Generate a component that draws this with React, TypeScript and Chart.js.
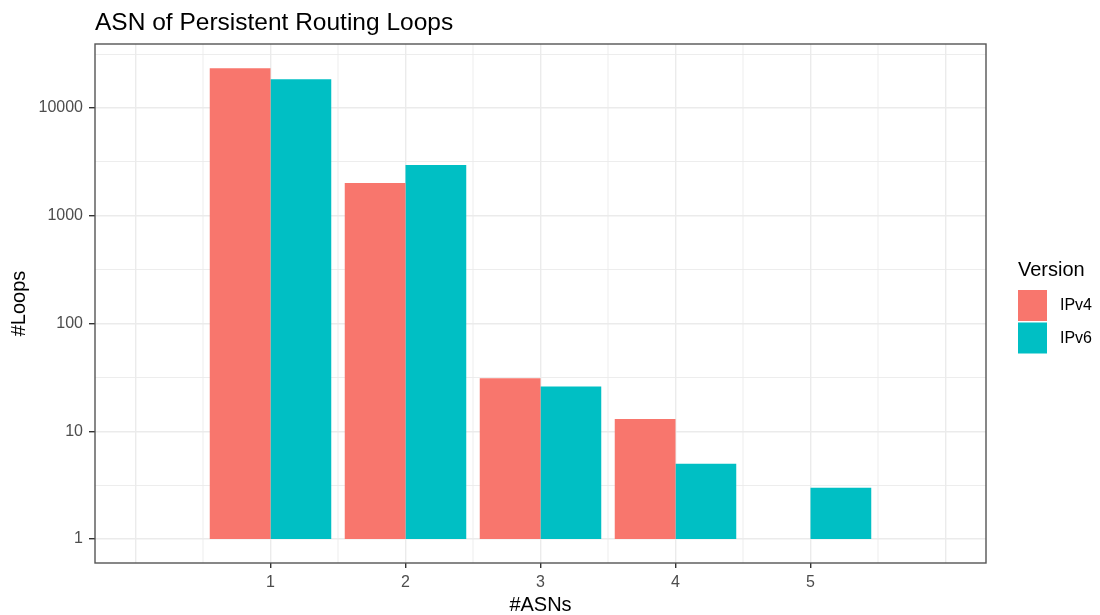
import React, { useEffect, useRef } from 'react';
import { Chart, registerables } from 'chart.js';
Chart.register(...registerables);

const asns = [1, 2, 3, 4, 5];
const ipv4Loops: (number | null)[] = [23300, 2010, 31, 13, null];
const ipv6Loops: (number | null)[] = [18450, 2950, 26, 5, 3];
const seriesNames = ['IPv4', 'IPv6'];
const seriesColors = ['#F8766D', '#00BFC4'];
const xTickValues = [0, 1, 2, 3, 4, 5, 6];
const xLabelled = [1, 2, 3, 4, 5];
const xMinorValues = [0.5, 1.5, 2.5, 3.5, 4.5, 5.5];
const yTickValues = [1, 10, 100, 1000, 10000];
const yMinorValues = [3.1623, 31.623, 316.23, 3162.3, 31623];
const barBase = 1;
const titleText = 'ASN of Persistent Routing Loops';
const xTitle = '#ASNs';
const yTitle = '#Loops';
const legendTitle = 'Version';

const FONT = '"Liberation Sans", Arial, Helvetica, sans-serif';
const GRID = '#EBEBEB';

const toPoints = (vals: (number | null)[]) =>
  asns
    .map((a, i) => (vals[i] == null ? null : { x: a, y: [barBase, vals[i] as number] }))
    .filter((p) => p !== null);

export default function App() {
  const ref = useRef<HTMLCanvasElement | null>(null);
  useEffect(() => {
    if (!ref.current) return;
    const decor = {
      id: 'decor',
      beforeDatasetsDraw(chart: any) {
        const { ctx, chartArea } = chart;
        const xs = chart.scales.x;
        ctx.save();
        ctx.strokeStyle = GRID;
        ctx.lineWidth = 0.9;
        xMinorValues.forEach((v) => {
          const px = xs.getPixelForValue(v);
          ctx.beginPath();
          ctx.moveTo(px, chartArea.top);
          ctx.lineTo(px, chartArea.bottom);
          ctx.stroke();
        });
        ctx.restore();
      },
      afterDraw(chart: any) {
        const { ctx, chartArea } = chart;
        ctx.save();
        ctx.strokeStyle = '#555555';
        ctx.lineWidth = 1.4;
        ctx.strokeRect(chartArea.left, chartArea.top, chartArea.right - chartArea.left, chartArea.bottom - chartArea.top);
        ctx.fillStyle = '#000000';
        ctx.font = `24.5px ${FONT}`;
        ctx.textAlign = 'left';
        ctx.textBaseline = 'alphabetic';
        ctx.fillText(titleText, chartArea.left, 30);
        ctx.font = `20px ${FONT}`;
        ctx.textAlign = 'center';
        ctx.fillText(xTitle, (chartArea.left + chartArea.right) / 2, 611);
        ctx.save();
        ctx.translate(25, (chartArea.top + chartArea.bottom) / 2);
        ctx.rotate(-Math.PI / 2);
        ctx.fillText(yTitle, 0, 0);
        ctx.restore();
        ctx.textAlign = 'left';
        ctx.font = `20px ${FONT}`;
        ctx.fillText(legendTitle, 1018, 276);
        ctx.font = `16px ${FONT}`;
        ctx.textBaseline = 'middle';
        seriesNames.forEach((name, i) => {
          const top = 290 + i * 32.5;
          ctx.fillStyle = seriesColors[i];
          ctx.fillRect(1018, top, 29, 31);
          ctx.fillStyle = '#000000';
          ctx.fillText(name, 1060, top + 16);
        });
        ctx.restore();
      },
    };

    const chart = new Chart(ref.current, {
      type: 'bar',
      data: {
        datasets: [
          {
            label: seriesNames[0],
            data: toPoints(ipv4Loops) as any,
            backgroundColor: seriesColors[0],
            borderWidth: 0,
            categoryPercentage: 0.9,
            barPercentage: 1.0,
          },
          {
            label: seriesNames[1],
            data: toPoints(ipv6Loops) as any,
            backgroundColor: seriesColors[1],
            borderWidth: 0,
            categoryPercentage: 0.9,
            barPercentage: 1.0,
          },
        ],
      },
      options: {
        responsive: false,
        animation: false,
        layout: { padding: { left: 0, top: 44, right: 114, bottom: 0 } },
        plugins: { legend: { display: false }, title: { display: false }, tooltip: { enabled: false } },
        scales: {
          x: {
            type: 'linear',
            min: -0.3,
            max: 6.3,
            offset: false,
            afterBuildTicks: (s: any) => {
              s.ticks = xTickValues.map((v) => ({ value: v }));
            },
            afterFit: (s: any) => {
              s.height = 52;
            },
            border: { display: false },
            grid: {
              offset: false,
              color: GRID,
              lineWidth: 1.4,
              drawTicks: true,
              tickLength: 5,
              tickWidth: 1.4,
              tickColor: (c: any) => (xLabelled.includes(c.tick?.value) ? '#333333' : 'rgba(0,0,0,0)'),
            },
            ticks: {
              autoSkip: false,
              maxRotation: 0,
              padding: 5,
              color: '#4D4D4D',
              font: { family: FONT, size: 16 },
              callback: (v: any) => (xLabelled.includes(Number(v)) ? String(v) : ''),
            },
          },
          y: {
            type: 'logarithmic',
            min: 0.626,
            max: 39200,
            afterBuildTicks: (s: any) => {
              s.ticks = [...yTickValues, ...yMinorValues].sort((a, b) => a - b).map((v) => ({ value: v }));
            },
            afterFit: (s: any) => {
              s.width = 95;
            },
            border: { display: false },
            grid: {
              color: GRID,
              lineWidth: (c: any) => (yTickValues.includes(c.tick?.value) ? 1.4 : 0.9),
              drawTicks: true,
              tickLength: 6,
              tickWidth: 1.4,
              tickColor: (c: any) => (yTickValues.includes(c.tick?.value) ? '#333333' : 'rgba(0,0,0,0)'),
            },
            ticks: {
              autoSkip: false,
              padding: 6,
              color: '#4D4D4D',
              font: { family: FONT, size: 16 },
              callback: (v: any) => (yTickValues.includes(Number(v)) ? String(v) : ''),
            },
          },
        },
      },
      plugins: [decor],
    } as any);
    return () => chart.destroy();
  }, []);

  return (
    <div style={{ position: 'fixed', left: 0, top: 0, width: 1100, height: 615, background: '#ffffff' }}>
      <canvas ref={ref} width={1100} height={615} style={{ width: 1100, height: 615 }} />
    </div>
  );
}
